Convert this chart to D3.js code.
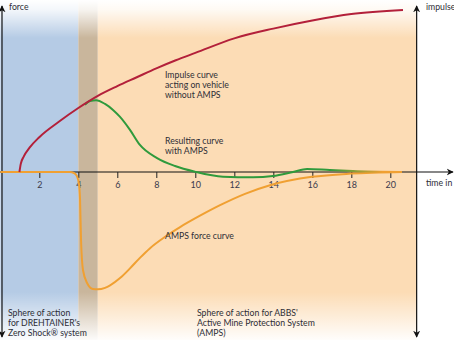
<!DOCTYPE html>
<html>
<head>
<meta charset="utf-8">
<script src="https://cdn.jsdelivr.net/npm/d3@7"></script>
<style>
  html, body { margin: 0; padding: 0; background: #fff; }
  svg { display: block; }
  text { font-family: Lato, "Open Sans", sans-serif; fill: #2e2e36; }
</style>
</head>
<body>
<svg id="chart" width="454" height="340"></svg>
<script>
// Time axis ticks (ms)
const tickValues = [2, 4, 6, 8, 10, 12, 14, 16, 18, 20];

// Impulse curve acting on vehicle without AMPS
const impulseT = [0.98, 1.05, 1.2, 1.5, 2, 3, 4, 5, 6, 7, 8, 9, 10, 12, 14, 16, 18, 20.65];
const impulseV = [0, 5, 9.5, 15, 21.5, 31, 39.5, 47, 53, 58.5, 64, 69, 73.5, 82.5, 88.5, 93.5, 97.5, 100];

// Resulting curve with AMPS
const resultT = [4.34, 4.6, 4.91, 5.37, 5.78, 6.14, 6.65, 7.16, 8.04, 8.96, 9.98, 11.42, 12.96, 13.98, 15.01, 15.73, 16.9, 18.09, 20.6];
const resultV = [41.5, 43.8, 44.3, 42, 38.3, 34, 26, 16.7, 8.6, 3.7, 0.2, -2.9, -3.3, -2.5, 0, 1.9, 1.2, 0.6, 0];

// AMPS force curve
const forceT = [0, 3.57, 3.78, 3.93, 4.04, 4.09, 4.14, 4.24, 4.45, 4.75, 5.01, 5.37, 5.63, 6.14, 6.65, 7.16, 7.68, 8.45, 9.22, 10.24, 11.27, 12.55, 13.83, 15.98, 17.98, 20.6];
const forceV = [0, 0, -0.6, -2.5, -8, -17.3, -42, -60.5, -68.5, -72.2, -72.4, -71.5, -70, -65.5, -59.5, -53, -47, -40, -34, -27, -20.5, -13.5, -8.2, -3, -1, 0];

// Spheres of action along the time axis
const zoneStarts = [0, 4, 5];
const zoneEnds = [4, 5, 21.35];
const zoneColors = ["#b5cbe5", "#c9b69c", "#fcdcb5"];

const W = 454, H = 340;
const svg = d3.select("#chart");

const x = d3.scaleLinear().domain([0, 23.25]).range([0.3, 453.7]);
const y = d3.scaleLinear().domain([-100, 100]).range([334, 10]);

const defs = svg.append("defs");

// fade-out toward top and bottom edges
const fadeTop = defs.append("linearGradient").attr("id", "fadeTop")
  .attr("x1", 0).attr("y1", 0).attr("x2", 0).attr("y2", 1);
fadeTop.append("stop").attr("offset", "0%").attr("stop-color", "#fff").attr("stop-opacity", 1);
fadeTop.append("stop").attr("offset", "25%").attr("stop-color", "#fff").attr("stop-opacity", 0.85);
fadeTop.append("stop").attr("offset", "100%").attr("stop-color", "#fff").attr("stop-opacity", 0);

const fadeBottom = defs.append("linearGradient").attr("id", "fadeBottom")
  .attr("x1", 0).attr("y1", 0).attr("x2", 0).attr("y2", 1);
fadeBottom.append("stop").attr("offset", "0%").attr("stop-color", "#fff").attr("stop-opacity", 0);
fadeBottom.append("stop").attr("offset", "100%").attr("stop-color", "#fff").attr("stop-opacity", 0.95);

// green blends into orange where the curves converge
const blend = defs.append("linearGradient").attr("id", "blend")
  .attr("gradientUnits", "userSpaceOnUse")
  .attr("x1", x(16.9)).attr("x2", x(19.6)).attr("y1", 0).attr("y2", 0);
blend.append("stop").attr("offset", "0%").attr("stop-color", "#2f9a3c");
blend.append("stop").attr("offset", "100%").attr("stop-color", "#f0a032");

const arrow = (id) => defs.append("marker").attr("id", id)
  .attr("viewBox", "0 0 10 10").attr("refX", 9).attr("refY", 5)
  .attr("markerWidth", 7).attr("markerHeight", 9).attr("markerUnits", "userSpaceOnUse")
  .attr("orient", "auto-start-reverse")
  .append("path").attr("d", "M0,0 L10,5 L0,10 L3,5 Z").attr("fill", "#111");
arrow("arr");

// background zones
svg.append("g").selectAll("rect").data(zoneStarts).join("rect")
  .attr("x", (d) => x(d))
  .attr("y", 0)
  .attr("width", (d, i) => x(zoneEnds[i]) - x(d))
  .attr("height", H)
  .attr("fill", (d, i) => zoneColors[i]);

svg.append("rect").attr("x", 0).attr("y", 0).attr("width", W).attr("height", 38)
  .attr("fill", "url(#fadeTop)");
svg.append("rect").attr("x", 0).attr("y", 292).attr("width", W).attr("height", 48)
  .attr("fill", "url(#fadeBottom)");

// vertical axes with arrows at both ends
const axisX = [2, x(zoneEnds[2])];
svg.append("g").selectAll("line").data(axisX).join("line")
  .attr("x1", (d) => d).attr("x2", (d) => d)
  .attr("y1", 6).attr("y2", 337)
  .attr("stroke", "#111").attr("stroke-width", 1.2)
  .attr("marker-start", "url(#arr)").attr("marker-end", "url(#arr)");

// time axis
svg.append("line")
  .attr("x1", 0).attr("x2", 453).attr("y1", y(0)).attr("y2", y(0))
  .attr("stroke", "#111").attr("stroke-width", 1.2)
  .attr("marker-end", "url(#arr)");

const xAxis = d3.axisBottom(x).tickValues(tickValues).tickSize(6).tickPadding(4).tickFormat(d3.format("d"));
const gx = svg.append("g").attr("transform", `translate(0,${y(0)})`).call(xAxis);
gx.select(".domain").remove();
gx.selectAll(".tick line").attr("stroke", "#222").attr("stroke-width", 1);
gx.selectAll(".tick text").attr("font-size", 9).style("fill", "#3a3a4c")
  .style("font-family", "Lato, 'Open Sans', sans-serif");

// curves
const line = d3.line().x((d) => x(d[0])).y((d) => y(d[1])).curve(d3.curveMonotoneX);
const zip = (a, b) => a.map((t, i) => [t, b[i]]);

svg.append("path").datum(zip(forceT, forceV)).attr("d", line)
  .attr("fill", "none").attr("stroke", "#f0a032").attr("stroke-width", 2);
svg.append("path").datum(zip(resultT, resultV)).attr("d", line)
  .attr("fill", "none").attr("stroke", "url(#blend)").attr("stroke-width", 2);
svg.append("path").datum(zip(impulseT, impulseV)).attr("d", line)
  .attr("fill", "none").attr("stroke", "#b3203a").attr("stroke-width", 2);

// labels
const fs = 8.7;
const label = (lines, lx, ly) => {
  const t = svg.append("text").attr("x", lx).attr("y", ly).attr("font-size", fs);
  lines.forEach((s, i) => t.append("tspan").attr("x", lx).attr("dy", i === 0 ? 0 : 9.8).text(s));
};
label(["force"], 9, 10);
label(["impulse"], 426, 10);
label(["time in ms"], 426, 186);
label(["Impulse curve", "acting on vehicle", "without AMPS"], 165, 78);
label(["Resulting curve", "with AMPS"], 165, 144);
label(["AMPS force curve"], 165, 239);
label(["Sphere of action", "for DREHTAINER's", "Zero Shock\u00ae system"], 8, 316);
label(["Sphere of action for ABBS'", "Active Mine Protection System", "(AMPS)"], 197, 316);
</script>
</body>
</html>
